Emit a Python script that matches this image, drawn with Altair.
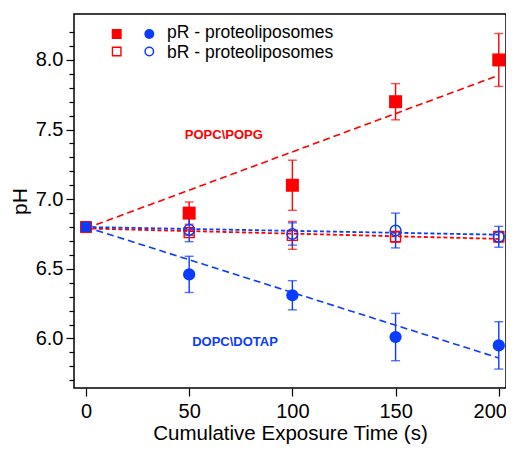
import altair as alt
import pandas as pd

# ---- data ----
times = [0, 50, 100, 150, 200]

pR_popc = [6.80, 6.90, 7.10, 7.70, 8.00]
pR_popc_err = [0.0, 0.08, 0.18, 0.13, 0.19]

pR_dopc = [6.80, 6.46, 6.31, 6.01, 5.95]
pR_dopc_err = [0.0, 0.13, 0.105, 0.17, 0.17]

bR_popc = [6.80, 6.76, 6.74, 6.73, 6.73]
bR_popc_err = [0.0, 0.02, 0.10, 0.04, 0.04]

bR_dopc = [6.80, 6.78, 6.75, 6.775, 6.73]
bR_dopc_err = [0.0, 0.085, 0.08, 0.125, 0.075]

# linear fits (end points)
fit_t = [0, 200]
fit_pR_popc = [6.79, 7.89]
fit_pR_dopc = [6.80, 5.86]
fit_bR_popc = [6.79, 6.715]
fit_bR_dopc = [6.80, 6.745]

# annotations
note_text = ["POPC\\POPG", "DOPC\\DOTAP"]
note_t = [66.8, 72.2]
note_pH = [7.46, 5.977]
note_color = ["#ff0000", "#0a3cff"]

legend_labels = ["pR - proteoliposomes", "bR - proteoliposomes"]

y_ticks = [round(5.7 + 0.1 * i, 1) for i in range(26)]
x_ticks = [0, 50, 100, 150, 200]

RED = "#ff0000"
BLUE = "#0a3cff"
FONT = "Liberation Sans"

def sdf(vals, errs, name):
    return pd.DataFrame({"t": times, "pH": vals, "err": errs, "series": name})

def fdf(vals, name):
    return pd.DataFrame({"t": fit_t, "pH": vals, "series": name})

major = "abs(datum.value*2 - round(datum.value*2)) < 0.001"

xs = alt.Scale(domain=[-5.8, 203.5], nice=False, zero=False)
ys = alt.Scale(domain=[5.644, 8.330], nice=False, zero=False)

xaxis = alt.Axis(values=x_ticks, title="Cumulative Exposure Time (s)", grid=False,
                 domain=False, tickSize=8, tickColor="#000", tickWidth=1.2,
                 labelFontSize=20, labelFont=FONT, labelColor="#000", labelPadding=5,
                 labelOffset={"condition": {"test": "datum.value == 200", "value": -9}, "value": 0},
                 labelFlush=False, titleFontSize=20.5, titleFont=FONT, titleColor="#000",
                 titleFontWeight="normal", titlePadding=2)
yaxis = alt.Axis(values=y_ticks, title="pH", grid=False, domain=False,
                 tickSize={"condition": {"test": major, "value": 8}, "value": 5},
                 tickColor="#000", tickWidth=1.2,
                 labelExpr=f"{major} ? format(datum.value, '.1f') : ''",
                 labelOverlap=False, labelFontSize=20, labelFont=FONT, labelColor="#000",
                 labelPadding=3, titleFontSize=21, titleFont=FONT, titleColor="#000",
                 titleFontWeight="normal", titlePadding=5)

X = alt.X("t:Q", scale=xs, axis=xaxis)
Y = alt.Y("pH:Q", scale=ys, axis=yaxis)

def fit_line(vals, name, color, dash, width):
    return alt.Chart(fdf(vals, name)).mark_line(color=color, strokeDash=dash, strokeWidth=width).encode(x=X, y=Y)

def errbars(vals, errs, name, color):
    base = alt.Chart(sdf(vals, errs, name)).transform_filter("datum.err > 0").transform_calculate(
        lo="datum.pH - datum.err", hi="datum.pH + datum.err")
    stem = base.mark_rule(color=color, strokeWidth=1.4).encode(
        x=X, y=alt.Y("lo:Q", scale=ys, axis=yaxis), y2="hi:Q")
    cap_lo = base.mark_tick(color=color, orient="horizontal", size=9, thickness=1.4).encode(
        x=X, y=alt.Y("lo:Q", scale=ys, axis=yaxis))
    cap_hi = base.mark_tick(color=color, orient="horizontal", size=9, thickness=1.4).encode(
        x=X, y=alt.Y("hi:Q", scale=ys, axis=yaxis))
    return stem + cap_lo + cap_hi

def points(vals, errs, name, **kw):
    return alt.Chart(sdf(vals, errs, name)).transform_filter("datum.t > 0").mark_point(**kw).encode(x=X, y=Y)

lines = (fit_line(fit_pR_popc, "a", RED, [7, 4], 1.6)
         + fit_line(fit_pR_dopc, "b", BLUE, [7, 4], 1.6)
         + fit_line(fit_bR_popc, "c", RED, [4, 2.5], 1.8)
         + fit_line(fit_bR_dopc, "d", BLUE, [4, 2.5], 1.8))

errs = (errbars(pR_popc, pR_popc_err, "a", RED)
        + errbars(pR_dopc, pR_dopc_err, "b", BLUE)
        + errbars(bR_popc, bR_popc_err, "c", RED)
        + errbars(bR_dopc, bR_dopc_err, "d", BLUE))

pts = (points(bR_popc, bR_popc_err, "c", shape="square", filled=False, color=RED, size=100, strokeWidth=1.4, opacity=1)
       + points(pR_popc, pR_popc_err, "a", shape="square", filled=True, color=RED, size=169, opacity=1)
       + points(pR_dopc, pR_dopc_err, "b", shape="circle", filled=True, color=BLUE, size=150, opacity=1)
       + points(bR_dopc, bR_dopc_err, "d", shape="circle", filled=False, color=BLUE, size=115, strokeWidth=1.5, opacity=1))

start = alt.Chart(sdf(pR_dopc, pR_dopc_err, "b")).transform_filter("datum.t == 0").mark_point(
    shape="square", filled=True, fill=BLUE, stroke=RED, strokeWidth=1, size=121, opacity=1).encode(x=X, y=Y)

notes_df = pd.DataFrame({"text": note_text, "t": note_t, "pH": note_pH, "c": note_color})
notes = alt.Chart(notes_df).mark_text(font=FONT, fontSize=13, fontWeight="bold", align="center",
                                      baseline="middle").encode(
    x=X, y=Y, text="text:N", color=alt.Color("c:N", scale=None))

# legend (drawn in pixel space of the plot area)
one = pd.DataFrame({"k": [0]})
leg = (
    alt.Chart(one).mark_point(shape="square", filled=True, color=RED, size=100, opacity=1).encode(x=alt.value(42.7), y=alt.value(20))
    + alt.Chart(one).mark_point(shape="circle", filled=True, color=BLUE, size=100, opacity=1).encode(x=alt.value(75.3), y=alt.value(20))
    + alt.Chart(one).mark_point(shape="square", filled=False, color=RED, size=72, strokeWidth=1.4, opacity=1).encode(x=alt.value(42.7), y=alt.value(37.5))
    + alt.Chart(one).mark_point(shape="circle", filled=False, color=BLUE, size=72, strokeWidth=1.5, opacity=1).encode(x=alt.value(75.3), y=alt.value(37.5))
    + alt.Chart(pd.DataFrame({"label": [legend_labels[0]]})).mark_text(font=FONT, fontSize=17.5, align="left", baseline="middle", color="#000").encode(x=alt.value(93), y=alt.value(18.7), text="label:N")
    + alt.Chart(pd.DataFrame({"label": [legend_labels[1]]})).mark_text(font=FONT, fontSize=17.5, align="left", baseline="middle", color="#000").encode(x=alt.value(93), y=alt.value(38.5), text="label:N")
)

chart = alt.layer(lines, errs, pts, start, notes, leg).properties(
    width=432, height=374,
    autosize=alt.AutoSizeParams(type="none"),
    padding={"left": 66, "top": 6, "right": 0, "bottom": 57},
    background="white",
).configure_view(stroke="#000", strokeWidth=1.5)

chart.save("out.html", embed_options={"renderer": "svg", "actions": False})
